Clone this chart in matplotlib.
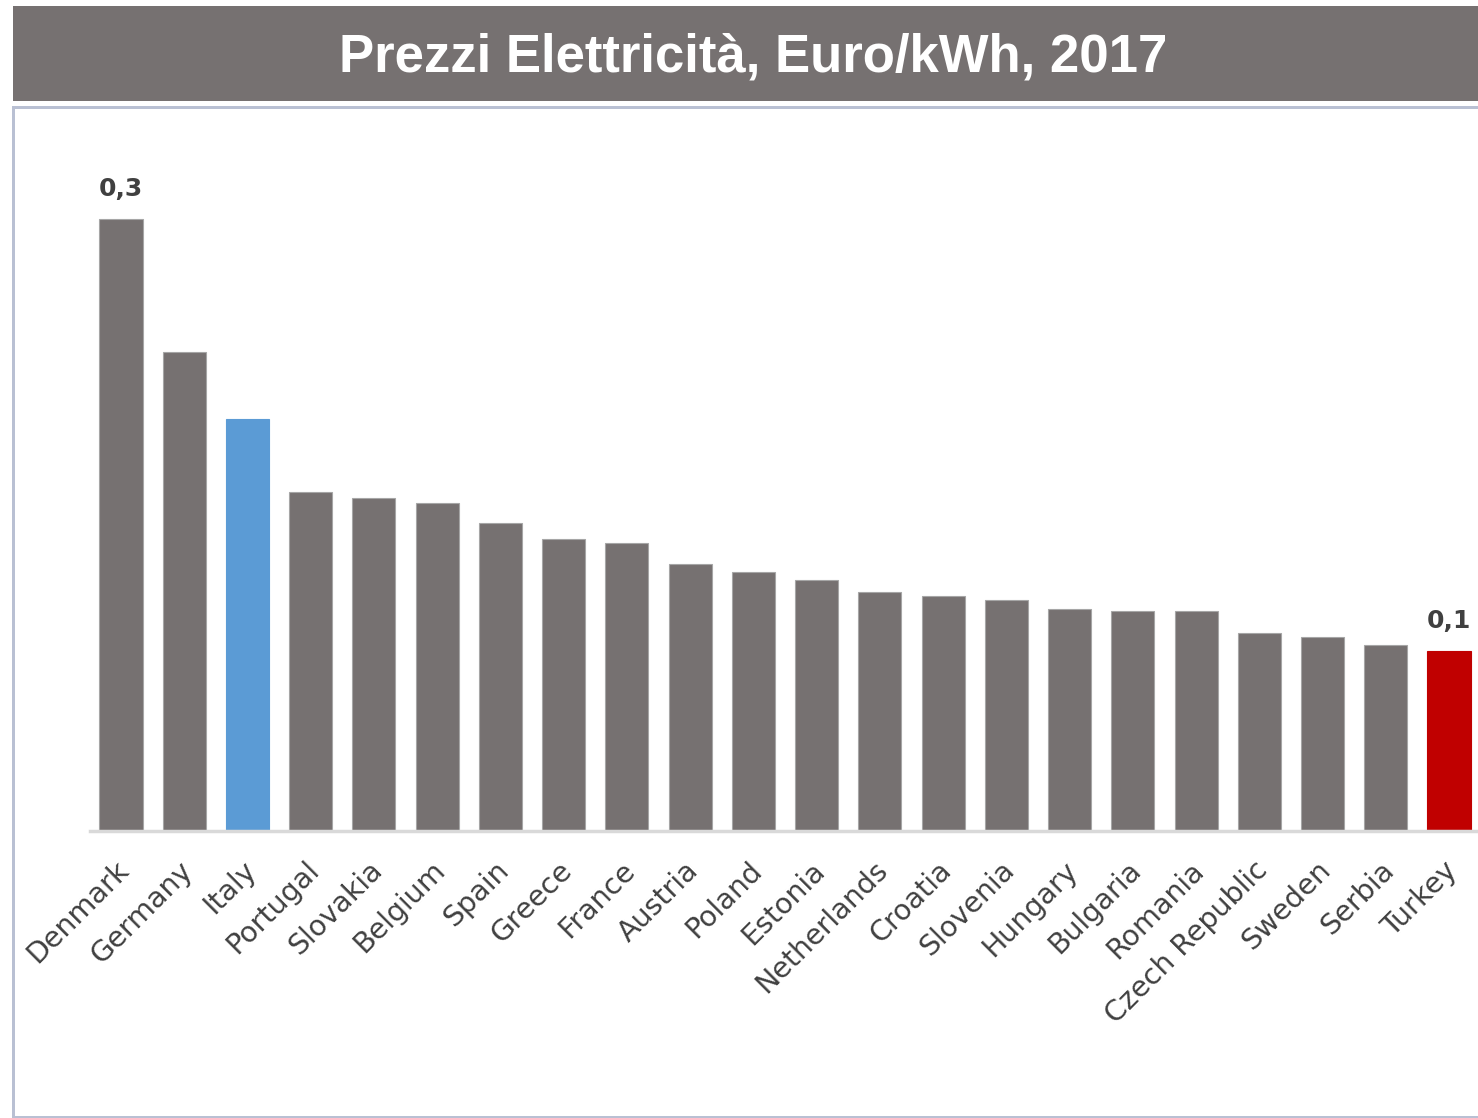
import matplotlib
matplotlib.use("Agg")
import matplotlib.pyplot as plt
from matplotlib.patches import Rectangle
from matplotlib.transforms import ScaledTranslation

countries = ["Denmark", "Germany", "Italy", "Portugal", "Slovakia", "Belgium", "Spain",
             "Greece", "France", "Austria", "Poland", "Estonia", "Netherlands", "Croatia",
             "Slovenia", "Hungary", "Bulgaria", "Romania", "Czech Republic", "Sweden",
             "Serbia", "Turkey"]
prices = [0.300, 0.235, 0.202, 0.166, 0.163, 0.161, 0.151, 0.143, 0.141, 0.131, 0.127,
          0.123, 0.117, 0.115, 0.113, 0.109, 0.108, 0.108, 0.097, 0.095, 0.091, 0.088]
shown_labels = {0: "0,3", 21: "0,1"}
title = "Prezzi Elettricità, Euro/kWh, 2017"

W, H = 1478, 1118
fig = plt.figure(figsize=(W / 100, H / 100), dpi=100)
fig.patch.set_facecolor("white")

def fx(px):
    return px / W

def fy(py):
    return 1 - py / H

# title banner
fig.add_artist(Rectangle((fx(13), fy(101)), fx(1478) - fx(13), (95) / H,
                         transform=fig.transFigure, facecolor="#767171", edgecolor="none"))
fig.text(fx(753), fy(57), title, color="white", fontsize=38, fontweight="bold",
         family="Liberation Sans", ha="center", va="center")

# frame
frame_col = "#b9c0d3"
fig.add_artist(Rectangle((fx(12), fy(109)), fx(1478) - fx(12), 3 / H,
                         transform=fig.transFigure, facecolor=frame_col, edgecolor="none"))
fig.add_artist(Rectangle((fx(12), fy(1118)), 3 / W, (1118 - 106) / H,
                         transform=fig.transFigure, facecolor=frame_col, edgecolor="none"))
fig.add_artist(Rectangle((fx(12), fy(1118)), fx(1478) - fx(12), 2 / H,
                         transform=fig.transFigure, facecolor=frame_col, edgecolor="none"))

# axes
ax_left, ax_right = 90, 1478
ax_top, ax_bottom = 115, 831
ax = fig.add_axes([fx(ax_left), fy(ax_bottom), (ax_right - ax_left) / W, (ax_bottom - ax_top) / H])
ax.set_facecolor("none")

x = list(range(len(countries)))
colors = ["#767171"] * len(countries)
colors[countries.index("Italy")] = "#5b9bd5"
colors[countries.index("Turkey")] = "#c00000"
edges = ["#a6a6a6" if c == "#767171" else c for c in colors]
ax.bar(x, prices, width=0.68, color=colors, edgecolor=edges, linewidth=0.8, zorder=2)

unit = 63.24
ax.set_xlim(-31 / unit, 21 + 29 / unit)
ax.set_ylim(0, (ax_bottom - ax_top) / 2040)

for i, lab in shown_labels.items():
    ax.annotate(lab, (x[i], prices[i]), xytext=(0, 18), textcoords="offset pixels",
                ha="center", va="bottom", fontsize=18, fontweight="bold",
                color="#404040", family="DejaVu Sans")

for s in ["top", "right", "left"]:
    ax.spines[s].set_visible(False)
ax.spines["bottom"].set_color("#d9d9d9")
ax.spines["bottom"].set_linewidth(2.5)
ax.set_yticks([])
ax.set_xticks(x)
ax.set_xticklabels(countries, rotation=45, ha="right", va="top", rotation_mode="anchor",
                   fontsize=20.5, color="#404040", family="DejaVu Sans")
ax.tick_params(axis="x", length=0, pad=18)
shift = ScaledTranslation(-6 / 100, 0, fig.dpi_scale_trans)
for t in ax.get_xticklabels():
    t.set_transform(t.get_transform() + shift)

fig.savefig("out.png", dpi=100, facecolor="white")
